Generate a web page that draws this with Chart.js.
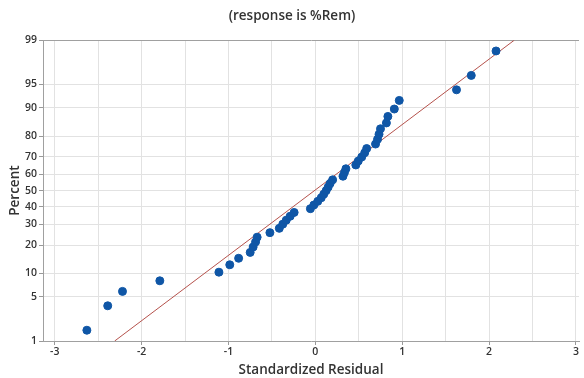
<!DOCTYPE html>
<html>
<head>
<meta charset="utf-8">
<title>Normal Probability Plot</title>
<script src="https://cdn.jsdelivr.net/npm/chart.js@4.4.0/dist/chart.umd.min.js"></script>
<style>
  html, body { margin: 0; padding: 0; background: #fff; }
  #wrap { width: 584px; height: 378px; }
</style>
</head>
<body>
<div id="wrap"><canvas id="probPlot" width="584" height="378"></canvas></div>
<script>
// standardized residuals, sorted
const residuals = [
  -2.63, -2.39, -2.22, -1.79, -1.11, -0.985, -0.883, -0.75, -0.716, -0.688,
  -0.67, -0.523, -0.415, -0.375, -0.335, -0.29, -0.244, -0.057, -0.017, 0.028,
  0.068, 0.097, 0.125, 0.148, 0.17, 0.199, 0.318, 0.335, 0.352, 0.466,
  0.494, 0.534, 0.568, 0.591, 0.693, 0.716, 0.733, 0.75, 0.818, 0.835,
  0.909, 0.966, 1.625, 1.795, 2.08
]
// plotting position of each point, in percent
const percents = [
  1.54, 3.74, 5.95, 8.15, 10.35, 12.56, 14.76, 16.96, 19.16, 21.37,
  23.57, 25.77, 27.97, 30.18, 32.38, 34.58, 36.78, 38.99, 41.19, 43.39,
  45.59, 47.80, 50.00, 52.20, 54.41, 56.61, 58.81, 61.01, 63.22, 65.42,
  67.62, 69.82, 72.03, 74.23, 76.43, 78.63, 80.84, 83.04, 85.24, 87.44,
  89.65, 91.85, 94.05, 96.26, 98.46
]
// fitted reference line (two ends)
const fitX = [-2.31, 2.29]
const fitPct = [1, 99]

const xTicks = [-3, -2.5, -2, -1.5, -1, -0.5, 0, 0.5, 1, 1.5, 2, 2.5, 3]
const yTickPct = [1, 5, 10, 20, 30, 40, 50, 60, 70, 80, 90, 95, 99]

// inverse normal cdf (Acklam) so the percent axis is a probability scale
function probit(p) {
  const a = [-3.969683028665376e+01, 2.209460984245205e+02, -2.759285104469687e+02, 1.383577518672690e+02, -3.066479806614716e+01, 2.506628277459239e+00]
  const b = [-5.447609879822406e+01, 1.615858368580409e+02, -1.556989798598866e+02, 6.680131188771972e+01, -1.328068155288572e+01]
  const c = [-7.784894002430293e-03, -3.223964580411365e-01, -2.400758277161838e+00, -2.549671010506685e+00, 4.374664141464968e+00, 2.938163982698783e+00]
  const d = [7.784695709041462e-03, 3.224671290700398e-01, 2.445134137142996e+00, 3.754408661907416e+00]
  const lo = 0.02425
  let q, r
  if (p < lo) {
    q = Math.sqrt(-2 * Math.log(p))
    return (((((c[0]*q+c[1])*q+c[2])*q+c[3])*q+c[4])*q+c[5]) / ((((d[0]*q+d[1])*q+d[2])*q+d[3])*q+1)
  }
  if (p <= 1 - lo) {
    q = p - 0.5; r = q * q
    return (((((a[0]*r+a[1])*r+a[2])*r+a[3])*r+a[4])*r+a[5])*q / (((((b[0]*r+b[1])*r+b[2])*r+b[3])*r+b[4])*r+1)
  }
  q = Math.sqrt(-2 * Math.log(1 - p))
  return -(((((c[0]*q+c[1])*q+c[2])*q+c[3])*q+c[4])*q+c[5]) / ((((d[0]*q+d[1])*q+d[2])*q+d[3])*q+1)
}

const pts = residuals.map((x, i) => ({ x: x, y: probit(percents[i] / 100) }))
const fitLine = fitX.map((x, i) => ({ x: x, y: probit(fitPct[i] / 100) }))
const zTicks = yTickPct.map(p => probit(p / 100))
const zTop = probit(0.99)

const tickFont = { family: "'Open Sans', sans-serif", size: 10.5, weight: '600' }
const titleFont = { family: "'Open Sans', sans-serif", size: 13.5, weight: '600' }

new Chart(document.getElementById('probPlot'), {
  type: 'scatter',
  data: {
    datasets: [
      {
        label: 'Fit',
        type: 'line',
        data: fitLine,
        borderColor: '#b5524c',
        borderWidth: 1,
        pointRadius: 0,
        fill: false,
        order: 2
      },
      {
        label: 'Residuals',
        data: pts,
        backgroundColor: '#0f56a6',
        borderColor: '#0f56a6',
        pointRadius: 4,
        pointHoverRadius: 4,
        order: 1
      }
    ]
  },
  options: {
    responsive: false,
    animation: false,
    devicePixelRatio: 1,
    layout: { padding: 0 },
    plugins: {
      legend: { display: false },
      tooltip: { enabled: false },
      title: {
        display: true,
        text: '(response is %Rem)',
        color: '#333',
        font: titleFont,
        padding: { top: 8, bottom: 16 }
      }
    },
    scales: {
      x: {
        type: 'linear',
        min: -3.135,
        max: 3.035,
        afterBuildTicks: (scale) => { scale.ticks = xTicks.map(v => ({ value: v })) },
        afterFit: (scale) => { scale.height = 37 },
        grid: {
          color: '#e2e2e2',
          tickLength: 4,
          tickColor: (ctx) => (ctx.tick && Number.isInteger(ctx.tick.value)) ? '#999' : 'rgba(0,0,0,0)'
        },
        border: { color: '#a0a0a0' },
        ticks: {
          color: '#333',
          font: tickFont,
          padding: 1,
          maxRotation: 0,
          callback: (v) => Number.isInteger(v) ? String(v) : ''
        },
        title: {
          display: true,
          text: 'Standardized Residual',
          color: '#333',
          font: titleFont,
          padding: { top: 0, bottom: 0 }
        }
      },
      y: {
        type: 'linear',
        min: -zTop,
        max: zTop,
        afterBuildTicks: (scale) => { scale.ticks = zTicks.map(v => ({ value: v })) },
        afterFit: (scale) => { scale.width = 43 },
        grid: {
          color: (ctx) => (ctx.index === zTicks.length - 1) ? '#a0a0a0' : '#e2e2e2',
          tickLength: 4,
          tickColor: '#999'
        },
        border: { color: '#a0a0a0' },
        ticks: {
          color: '#333',
          font: tickFont,
          padding: 2,
          callback: (v, i) => String(yTickPct[i])
        },
        title: {
          display: true,
          text: 'Percent',
          color: '#333',
          font: titleFont,
          padding: { top: 7, bottom: 0 }
        }
      }
    }
  }
})
</script>
</body>
</html>
